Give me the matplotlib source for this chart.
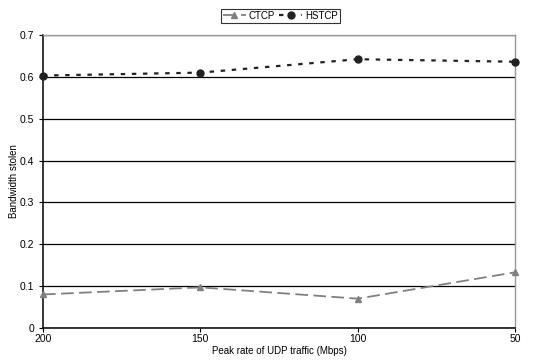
import matplotlib.pyplot as plt

plt.rcParams['font.family'] = ['Liberation Sans', 'DejaVu Sans']

rates = ['200', '150', '100', '50']
ctcp = [0.080, 0.097, 0.070, 0.133]
hstcp = [0.603, 0.610, 0.642, 0.636]

fig = plt.figure(figsize=(5.34, 3.64), dpi=100)
ax = fig.add_axes([0.0805, 0.099, 0.884, 0.805])

x = range(len(rates))
ax.plot(x, ctcp, color='#808080', linestyle=(0, (7, 3)), linewidth=1.3,
        marker='^', markersize=5, label='CTCP', clip_on=False, zorder=3)
ax.plot(x, hstcp, color='#222222', linestyle=(0, (2, 3)), linewidth=1.6,
        marker='o', markersize=5, label='HSTCP', clip_on=False, zorder=3)

ax.set_xlim(0, len(rates) - 1)
ax.set_ylim(0, 0.7)
ax.set_xticks(list(x))
ax.set_xticklabels(rates)
ax.set_yticks([i / 10 for i in range(8)])
ax.set_yticklabels(['0'] + [f'{i / 10:.1f}' for i in range(1, 8)])
ax.yaxis.grid(True, color='black', linewidth=0.9)
ax.set_axisbelow(True)

ax.tick_params(labelsize=7.5, length=3, width=0.8, colors='black')
ax.tick_params(axis='x', pad=1.5)
for side in ['left', 'bottom']:
    ax.spines[side].set_color('black')
    ax.spines[side].set_linewidth(1.1)
for side in ['top', 'right']:
    ax.spines[side].set_color('#999999')
    ax.spines[side].set_linewidth(1.0)

ax.set_xlabel('Peak rate of UDP traffic (Mbps)', fontsize=7, labelpad=1)
ax.set_ylabel('Bandwidth stolen', fontsize=7, labelpad=0)

leg = fig.legend(loc='center', bbox_to_anchor=(0.525, 0.957), ncol=2,
                 fontsize=7, frameon=True, fancybox=False, edgecolor='black',
                 handlelength=2.4, handletextpad=0.3, columnspacing=0.4,
                 borderpad=0.2, borderaxespad=0)
leg.get_frame().set_linewidth(0.8)

fig.savefig('out.png', dpi=100)
